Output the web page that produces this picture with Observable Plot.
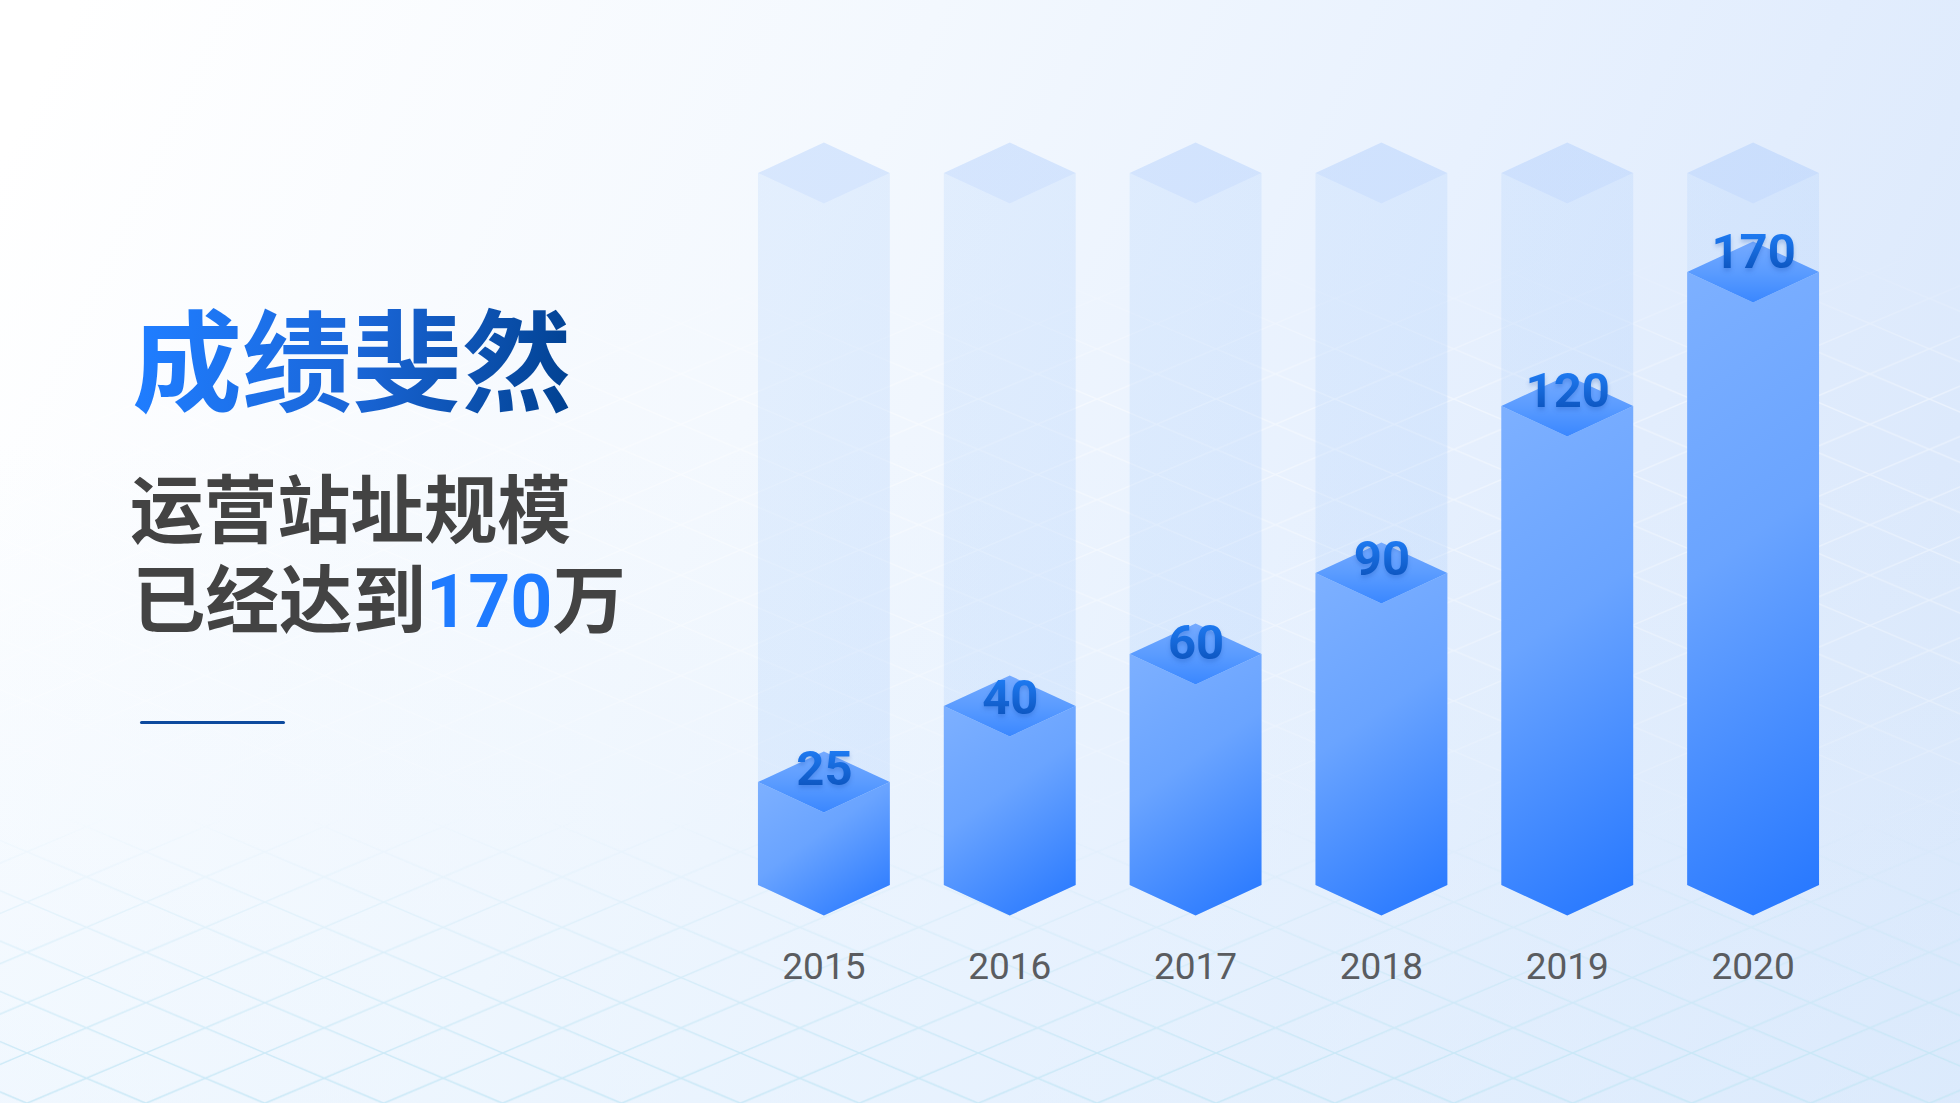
<!DOCTYPE html>
<html lang="zh">
<head>
<meta charset="utf-8">
<script src="https://cdn.jsdelivr.net/npm/d3@7"></script>
<script src="https://cdn.jsdelivr.net/npm/@observablehq/plot@0.6"></script>
<style>
html,body{margin:0;padding:0;width:1960px;height:1103px;overflow:hidden}
#page{position:relative;width:1960px;height:1103px;overflow:hidden;
  background:linear-gradient(180deg,rgba(228,242,254,0) 40%,rgba(228,242,254,.4) 100%),
             linear-gradient(115deg,#ffffff 3%,#f3f8fe 38%,#e8f1fe 62%,#d6e5fb 100%);
  font-family:Roboto,"Noto Sans CJK SC",sans-serif}
#lattice,#chart{position:absolute;left:0;top:0}
#chart svg{display:block;background:transparent;overflow:visible}
.t{position:absolute;white-space:nowrap;font-family:Roboto,"Noto Sans CJK SC",sans-serif;font-weight:700}
#title{left:132px;top:280px;font-size:110px;line-height:150px;font-family:"Noto Sans CJK SC";font-weight:700;
  background:linear-gradient(100deg,#1f7dff 5%,#1a66d8 50%,#00408f 98%);
  -webkit-background-clip:text;background-clip:text;color:transparent;padding-right:8px}
.sub{font-size:73.5px;line-height:88px;color:#434343;font-family:Roboto,"Noto Sans CJK SC"}
#l1{left:130px;top:468px}
#l2{left:132px;top:558px}
#l2 b{color:#1f7bff;font-weight:700;font-family:Roboto}
#rule{position:absolute;left:140px;top:721px;width:145px;height:3px;border-radius:2px;background:#0d4a9e}
</style>
</head>
<body>
<div id="page">
  <svg id="lattice" width="1960" height="1103" xmlns="http://www.w3.org/2000/svg">
    <defs>
      <pattern id="cell" patternUnits="userSpaceOnUse" x="27" y="1053" width="118.9" height="50.3">
        <path d="M0,0L118.9,50.3M0,50.3L118.9,0" fill="none" stroke="#fff" stroke-width="1.5"/>
      </pattern>
      <pattern id="cellCyan" patternUnits="userSpaceOnUse" x="27" y="1053" width="118.9" height="50.3">
        <path d="M0,0L118.9,50.3M0,50.3L118.9,0" fill="none" stroke="#c3e6f5" stroke-width="1.4"/>
      </pattern>
      <linearGradient id="fadeWhite" x1="0" y1="0" x2="0" y2="1">
        <stop offset=".22" stop-color="#fff" stop-opacity="0"/>
        <stop offset=".36" stop-color="#fff" stop-opacity=".42"/>
        <stop offset=".62" stop-color="#fff" stop-opacity=".3"/>
        <stop offset=".78" stop-color="#fff" stop-opacity="0"/>
      </linearGradient>
      <linearGradient id="fadeCyan" x1="0" y1="0" x2="0" y2="1">
        <stop offset=".74" stop-color="#fff" stop-opacity="0"/>
        <stop offset="1" stop-color="#fff" stop-opacity=".95"/>
      </linearGradient>
      <mask id="maskWhite"><rect width="1960" height="1103" fill="url(#fadeWhite)"/></mask>
      <mask id="maskCyan"><rect width="1960" height="1103" fill="url(#fadeCyan)"/></mask>
    </defs>
    <rect width="1960" height="1103" fill="url(#cell)" mask="url(#maskWhite)"/>
    <rect width="1960" height="1103" fill="url(#cellCyan)" mask="url(#maskCyan)"/>
  </svg>
  <div id="chart"></div>
  <div class="t" id="title">成绩斐然</div>
  <div class="t sub" id="l1">运营站址规模</div>
  <div class="t sub" id="l2">已经达到<b>170</b>万</div>
  <div id="rule"></div>
</div>
<script>
const years = ["2015", "2016", "2017", "2018", "2019", "2020"];
const values = [25, 40, 60, 90, 120, 170];
const trackValue = 200; // the pale column behind every bar

const rows = years.map((year, i) => ({year, value: values[i], track: trackValue}));

// The picture's bars are not proportional to their labels, so the y scale is
// piecewise, with one segment for each value, to reproduce the drawn heights.
const yScale = {
  axis: null,
  type: "linear",
  domain: [0, ...values, trackValue],
  range: [885, 782, 706, 654, 573, 406, 272, 173]
};
const labelDy = {2015: 2.5, 2016: 7.5, 2017: 4, 2018: 1.5, 2019: 0.5, 2020: -4.5};

const faceRatio = 30.5 / 132;
const NS = "http://www.w3.org/2000/svg";
let gradientCount = 0;

// A gradient at a fixed angle in pixels, fitted to one bar's outline.
function bodyGradient(x, t, w, h) {
  const angle = 35 * Math.PI / 180, s = Math.sin(angle), c = Math.cos(angle);
  const len = w * s + h * c;
  const id = "barBody" + gradientCount++;
  const lg = document.createElementNS(NS, "linearGradient");
  lg.setAttribute("id", id);
  lg.setAttribute("gradientUnits", "userSpaceOnUse");
  lg.setAttribute("x1", x); lg.setAttribute("y1", t);
  lg.setAttribute("x2", x + len * s); lg.setAttribute("y2", t + len * c);
  lg.innerHTML = `<stop offset="0" stop-color="#7db0ff"/><stop offset=".42" stop-color="#6aa4ff"/><stop offset="1" stop-color="#2476ff"/>`;
  return {id, lg};
}

// Turns each bar rectangle into an isometric outline.
function isometric(kind, angled) {
  return function (index, scales, channels, dims, ctx, next) {
    const g = next(index, scales, channels, dims, ctx);
    for (const r of [...g.querySelectorAll("rect")]) {
      const x = +r.getAttribute("x"), w = +r.getAttribute("width");
      const t = +r.getAttribute("y"), b = t + +r.getAttribute("height");
      const c = x + w / 2, e = x + w, h = w * faceRatio;
      const d = kind === "top"
        ? `M${x},${t}L${c},${t - h}L${e},${t}L${c},${t + h}Z`
        : `M${x},${t}L${c},${t + h}L${e},${t}L${e},${b}L${c},${b + h}L${x},${b}Z`;
      const p = document.createElementNS(NS, "path");
      p.setAttribute("d", d);
      if (angled) {
        const {id, lg} = bodyGradient(x, t, w, b + h - t);
        g.appendChild(lg);
        p.setAttribute("fill", `url(#${id})`);
      }
      r.replaceWith(p);
    }
    return g;
  };
}
function shadowed(index, scales, channels, dims, ctx, next) {
  const g = next(index, scales, channels, dims, ctx);
  g.style.filter = "drop-shadow(0 3px 2px rgba(15,70,170,.25))";
  return g;
}

const chart = Plot.plot({
  width: 1960,
  height: 1103,
  marginTop: 0, marginRight: 0, marginLeft: 0, marginBottom: 218,
  style: {background: "transparent", fontFamily: "Roboto"},
  x: {type: "band", domain: years, range: [704, 1873], padding: 54 / 186, axis: null, label: null, round: false},
  y: yScale,
  marks: [
    Plot.barY(rows, {x: "year", y1: () => 0, y2: "track", fill: "url(#trackBody)", render: isometric("body")}),
    Plot.barY(rows, {x: "year", y1: () => 0, y2: "track", fill: "url(#trackTop)", render: isometric("top")}),
    Plot.barY(rows, {x: "year", y1: () => 0, y2: "value", fill: "#5b9cff", render: isometric("body", true)}),
    Plot.barY(rows, {x: "year", y1: () => 0, y2: "value", fill: "url(#barTop)", render: isometric("top")}),
    ...rows.map(r => Plot.text([r], {
      x: "year", y: "value", text: d => String(d.value), lineAnchor: "bottom", dy: labelDy[r.year],
      fontSize: 49, fontWeight: 700, fontFamily: "Roboto", fill: "url(#labelFill)", render: shadowed
    })),
    Plot.axisX({anchor: "bottom", tickSize: 0, tickPadding: 67, fontSize: 37, dx: -0.5, color: "#5a5c60", label: null, fontFamily: "Roboto"})
  ]
});

const defs = document.createElementNS(NS, "defs");
defs.innerHTML = `
  <linearGradient id="trackBody" x1="0" y1="0" x2="1" y2="1">
    <stop offset="0" stop-color="#a0c8fb" stop-opacity=".2"/>
    <stop offset="1" stop-color="#98c2fb" stop-opacity=".22"/>
  </linearGradient>
  <linearGradient id="trackTop" x1="0" y1="0" x2="1" y2="1">
    <stop offset="0" stop-color="#90bafc" stop-opacity=".29"/>
    <stop offset="1" stop-color="#90bafc" stop-opacity=".29"/>
  </linearGradient>
  <linearGradient id="barTop" x1="0" y1="0" x2="0" y2="1">
    <stop offset="0" stop-color="#75aaff"/>
    <stop offset=".5" stop-color="#5b9cff"/>
    <stop offset="1" stop-color="#3a87ff"/>
  </linearGradient>
  <linearGradient id="labelFill" x1="0" y1="0" x2="0" y2="1">
    <stop offset=".15" stop-color="#1f7cf4"/>
    <stop offset=".85" stop-color="#0c54be"/>
  </linearGradient>`;
chart.insertBefore(defs, chart.firstChild);
document.getElementById("chart").appendChild(chart);
</script>
</body>
</html>
